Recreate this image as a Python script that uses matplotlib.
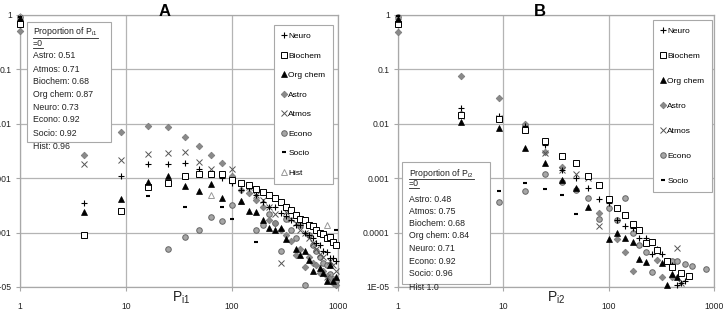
import numpy as np
import matplotlib
matplotlib.use("Agg")
import matplotlib.pyplot as plt
from matplotlib.lines import Line2D
from matplotlib.patches import Rectangle
from matplotlib.ticker import FixedLocator, FixedFormatter, NullLocator

nan = np.nan
W, H = 724, 312

# ---------------- data ----------------
series_names_A = ["Neuro", "Biochem", "Org chem", "Astro", "Atmos", "Econo", "Socio", "Hist"]
series_names_B = ["Neuro", "Biochem", "Org chem", "Astro", "Atmos", "Econo", "Socio"]

# Panel A: x = n^2, n = 1..31
n_A = np.arange(1, 32)
A_neuro = [0.73, 3.5e-4, 1.1e-3, 1.8e-3, 1.8e-3, 1.9e-3, 1.5e-3, 1.2e-3, 1e-3, 8e-4, 6e-4, 6.5e-4, 5e-4,
           3.6e-4, 3e-4, 3e-4, 2.3e-4, 2e-4, 1.7e-4, 1.4e-4, 1.4e-4, 1e-4, 9e-5, 8e-5, 6.5e-5, 6e-5,
           4.5e-5, 4.4e-5, 3.4e-5, 3.4e-5, 3e-5]
A_biochem = [0.68, 9.1e-5, 2.5e-4, 7e-4, 8.3e-4, 1.1e-3, 1.2e-3, 1.2e-3, 1.2e-3, 9.3e-4, 8e-4, 7.5e-4,
             6.3e-4, 5.6e-4, 4.9e-4, 4.3e-4, 3.7e-4, 3e-4, 2.6e-4, 2.1e-4, 1.8e-4, 1.7e-4, 1.4e-4,
             1.3e-4, 1.1e-4, 1e-4, 9.4e-5, 8.1e-5, 8.4e-5, 6.8e-5, 5.9e-5]
A_orgchem = [0.87, 2.4e-4, 4.2e-4, 8.5e-4, 1.1e-3, 7.3e-4, 5.9e-4, 7.7e-4, 4.4e-4, nan, 3.8e-4, 2.5e-4,
             2.4e-4, 1.7e-4, 1.2e-4, 1.1e-4, 1.2e-4, 7.7e-5, nan, 5e-5, 3.9e-5, 4.5e-5, 3.2e-5, 2e-5,
             nan, 2.2e-5, 1.8e-5, 1.3e-5, 2.5e-5, 1.3e-5, 1.5e-5]
A_astro = [0.51, 2.7e-3, 7.1e-3, 9.1e-3, 8.8e-3, 5.7e-3, 3.9e-3, 2.7e-3, 1.9e-3, 1.1e-3, 6e-4, 5.3e-4,
           4e-4, 3e-4, 1.7e-4, 1.5e-4, 1.1e-4, 9e-5, 7e-5, 3.9e-5, 5e-5, 2.3e-5, 3.5e-5, 2.8e-5, 2.5e-5,
           1.8e-5, 2e-5, 1.6e-5, 1.4e-5, 1.2e-5, 1.1e-5]
A_atmos = [0.71, 1.8e-3, 2.2e-3, 2.8e-3, 2.9e-3, 3e-3, 2e-3, 1.5e-3, nan, 1.5e-3, 8e-4, 7e-4, 5e-4,
           4e-4, 3e-4, 2.2e-4, 2.8e-5, 2.4e-4, 1.8e-4, 1.5e-4, 1.1e-4, 1e-4, 8e-5, 6.5e-5, 5e-5, 4e-5,
           3.5e-5, 1.5e-5, 3e-5, 2.5e-5, 2e-5]
A_econo = [0.92, nan, nan, nan, 5e-5, 8.3e-5, 1.1e-4, 1.9e-4, 1.6e-4, 3.2e-4, 8e-4, 7.2e-4, 1.1e-4,
           1.4e-4, 2.2e-4, 1.5e-4, 4.5e-5, 1.8e-4, 1.1e-4, 8e-5, 1.4e-4, 1.1e-5, 9e-5, 6e-5, 4.5e-5,
           3.5e-5, 2.8e-5, 2.5e-5, 1.7e-5, 1.4e-5, 1.3e-5]
A_socio = [0.92, nan, nan, 4.7e-4, nan, 3e-4, nan, nan, 3e-4, 1.8e-4, nan, nan, 6.8e-5, nan, nan, nan,
           nan, nan, nan, nan, nan, nan, nan, nan, nan, nan, nan, nan, nan, nan, 1.1e-4]
A_hist = [0.96, nan, nan, nan, nan, nan, nan, 5e-4, nan, nan, 3.8e-4, nan, nan, nan, nan, nan, nan,
          nan, nan, nan, nan, nan, nan, nan, nan, nan, nan, 1.4e-4, nan, nan, nan]

# Panel B: x = n^2, n = 1..29
n_B = np.arange(1, 30)
B_neuro = [0.71, 0.0195, 0.014, 0.009, 0.004, 0.0014, 0.001, 6.6e-4, 4.1e-4, 3.5e-4, 1.7e-4, 1.3e-4,
           1.2e-4, 8e-5, 8e-5, 4e-5, 5e-5, 4e-5, 3e-5, 2.5e-5, 1.1e-5, 1.2e-5, 1.3e-5, nan, nan, nan,
           nan, nan, nan]
B_biochem = [0.68, 0.0146, 0.012, 0.0077, 0.0048, 0.0026, 0.0019, 0.0011, 7.5e-4, 4.1e-4, 2.8e-4,
             2.1e-4, 1.45e-4, 1.1e-4, 6.5e-5, 6.8e-5, 4.8e-5, nan, 3e-5, 2.3e-5, nan, 1.8e-5, nan,
             1.6e-5, nan, nan, nan, nan, nan]
B_orgchem = [0.84, 0.0108, 0.0084, 0.0036, 0.0019, 9.3e-4, 6.6e-4, 2.9e-4, nan, 7.6e-5, 1e-4, 8e-5,
             6.8e-5, 3.3e-5, 2.9e-5, nan, nan, 2.8e-5, 1.1e-5, 1.7e-5, 1.5e-5, nan, nan, nan, nan,
             nan, nan, nan, nan]
B_astro = [0.48, 0.076, 0.03, 0.0099, 0.003, 0.0016, nan, nan, 2.3e-4, nan, 7.5e-5, 4.4e-5, 2e-5,
           nan, nan, nan, 3.2e-5, 1.5e-5, nan, 1.5e-5, nan, nan, nan, nan, nan, nan, nan, nan, nan]
B_atmos = [0.75, 0.014, 0.013, 0.0085, 0.0029, 0.0014, 0.0012, 0.001, 1.3e-4, nan, nan, 2.1e-4, nan,
           nan, nan, nan, nan, nan, nan, nan, 5.2e-5, 1.2e-5, nan, nan, nan, nan, nan, nan, nan]
B_econo = [0.92, 0.015, 3.6e-4, 5.9e-4, 0.0012, 8.5e-4, 6.1e-4, 4.4e-4, 1.8e-4, 2.8e-4, 1.7e-4,
           4.4e-4, 1e-4, 6e-5, 4.4e-5, 1.9e-5, nan, nan, 3e-5, 3e-5, 3e-5, nan, 2.7e-5, nan, 2.4e-5,
           nan, nan, nan, 2.1e-5]
B_socio = [0.96, nan, 5.8e-4, 8.3e-4, 6.3e-4, 5e-4, 2.2e-4, nan, nan, nan, nan, nan, nan, nan, nan,
           nan, nan, nan, nan, nan, nan, nan, nan, nan, nan, nan, nan, nan, nan]

prop_A = ["Astro: 0.51", "Atmos: 0.71", "Biochem: 0.68", "Org chem: 0.87", "Neuro: 0.73",
          "Econo: 0.92", "Socio: 0.92", "Hist: 0.96"]
prop_B = ["Astro: 0.48", "Atmos: 0.75", "Biochem: 0.68", "Org chem: 0.84", "Neuro: 0.71",
          "Econo: 0.92", "Socio: 0.96", "Hist 1.0"]

y_ticks = [1e-5, 1e-4, 1e-3, 1e-2, 1e-1, 1]
y_tick_labels = ["1E-05", "0.0001", "0.001", "0.01", "0.1", "1"]
x_ticks = [1, 10, 100, 1000]
x_tick_labels = ["1", "10", "100", "1000"]

# ---------------- style ----------------
font = ["Liberation Sans", "DejaVu Sans"]
plt.rcParams["font.family"] = font
plt.rcParams["mathtext.fontset"] = "custom"
plt.rcParams["mathtext.rm"] = "Liberation Sans"
plt.rcParams["mathtext.it"] = "Liberation Sans:italic"

styles = {
    "Neuro":    dict(marker="+", color="black", ms=5, mew=0.8, mfc="black", mec="black"),
    "Biochem":  dict(marker="s", color="black", ms=4.2, mew=0.7, mfc="white", mec="black"),
    "Org chem": dict(marker="^", color="black", ms=5, mew=0.5, mfc="black", mec="black"),
    "Astro":    dict(marker="D", color="#8a8a8a", ms=3.4, mew=0.5, mfc="#8a8a8a", mec="#777777"),
    "Atmos":    dict(marker="x", color="#555555", ms=4, mew=0.7, mfc="#555555", mec="#555555"),
    "Econo":    dict(marker="o", color="#999999", ms=4, mew=0.7, mfc="#a6a6a6", mec="#666666"),
    "Socio":    dict(marker="_", color="black", ms=3.5, mew=1.5, mfc="black", mec="black"),
    "Hist":     dict(marker="^", color="#999999", ms=4.5, mew=0.7, mfc="white", mec="#999999"),
}

fig = plt.figure(figsize=(W / 100, H / 100), dpi=100)
fig.patch.set_facecolor("white")


def fx(px):
    return px / W


def fy(py):
    return 1 - py / H


def make_axes(x0, x1, y0=15, y1=287):
    ax = fig.add_axes([fx(x0), fy(y1), fx(x1) - fx(x0), fy(y0) - fy(y1)])
    ax.set_xscale("log")
    ax.set_yscale("log")
    ax.set_xlim(1, 1000)
    ax.set_ylim(1e-5, 1)
    ax.xaxis.set_major_locator(FixedLocator(x_ticks))
    ax.xaxis.set_major_formatter(FixedFormatter(x_tick_labels))
    ax.yaxis.set_major_locator(FixedLocator(y_ticks))
    ax.yaxis.set_major_formatter(FixedFormatter(y_tick_labels))
    ax.xaxis.set_minor_locator(NullLocator())
    ax.yaxis.set_minor_locator(NullLocator())
    ax.grid(True, color="#b4b4b4", lw=0.9)
    ax.set_axisbelow(True)
    for s in ax.spines.values():
        s.set_color("#a8a8a8")
        s.set_linewidth(0.9)
    ax.tick_params(axis="both", colors="#a8a8a8", length=3, width=0.8, labelsize=6.2,
                   labelcolor="#222222")
    ax.tick_params(axis="x", pad=8)
    ax.tick_params(axis="y", pad=3)
    return ax


axA = make_axes(20, 338)
axB = make_axes(398, 714)

dataA = {"Neuro": A_neuro, "Biochem": A_biochem, "Org chem": A_orgchem, "Astro": A_astro,
         "Atmos": A_atmos, "Econo": A_econo, "Socio": A_socio, "Hist": A_hist}
dataB = {"Neuro": B_neuro, "Biochem": B_biochem, "Org chem": B_orgchem, "Astro": B_astro,
         "Atmos": B_atmos, "Econo": B_econo, "Socio": B_socio}

draw_order = ["Econo", "Astro", "Atmos", "Hist", "Neuro", "Socio", "Biochem", "Org chem"]


def plot_panel(ax, n, data, names):
    x = n.astype(float) ** 2
    handles = {}
    for name in draw_order:
        if name not in data:
            continue
        st = styles[name]
        h, = ax.plot(x, data[name], linestyle="none", marker=st["marker"], ms=st["ms"],
                     mew=st["mew"], mfc=st["mfc"], mec=st["mec"], color=st["color"],
                     label=name, clip_on=False, zorder=3)
        handles[name] = h
    return [handles[nm] for nm in names]


hA = plot_panel(axA, n_A, dataA, series_names_A)
hB = plot_panel(axB, n_B, dataB, series_names_B)


def add_legend(ax, handles, names, x1, y0, spacing):
    leg = ax.legend(handles, names, loc="upper right",
                    bbox_to_anchor=(fx(x1), fy(y0)), bbox_transform=fig.transFigure,
                    frameon=True, fancybox=False, framealpha=1, edgecolor="#a8a8a8",
                    prop={"family": font, "size": 6.0}, labelspacing=spacing,
                    handlelength=0.6, handletextpad=0.2, borderpad=0.9, borderaxespad=0,
                    numpoints=1, markerscale=1.0)
    leg.get_frame().set_linewidth(0.8)
    leg.set_zorder(5)
    return leg


add_legend(axA, hA, series_names_A, 333, 25, 1.4)
add_legend(axB, hB, series_names_B, 712, 20, 2.05)


def add_textbox(sub, lines, x0, y0, x1, y1, tx, ty_list):
    rect = Rectangle((fx(x0), fy(y1)), fx(x1) - fx(x0), fy(y0) - fy(y1), transform=fig.transFigure,
                     facecolor="white", edgecolor="#a8a8a8", lw=0.8, zorder=6)
    fig.add_artist(rect)
    texts = []
    heads = ["Proportion of P$\\mathregular{_{%s}}$" % sub, "=0"]
    for i, s in enumerate(heads + lines):
        t = fig.text(fx(tx), fy(ty_list[i]), s, fontsize=6.3, va="center",
                     ha="left", color="#222222", zorder=7)
        texts.append(t)
    return texts[:2]


ys_A = [32, 43.5, 56, 69, 82, 94.5, 107.5, 120, 133, 146.5]
ys_B = [173, 184, 199, 211, 223.5, 236, 248.5, 261.5, 274, 287]
headA = add_textbox("i1", prop_A, 27, 22, 111, 142, 33, ys_A)
headB = add_textbox("i2", prop_B, 402, 162, 490, 284, 409, ys_B)

# titles and axis labels
fig.text(fx(165), fy(12), "A", fontsize=12, fontweight="bold", ha="center", va="center")
fig.text(fx(540), fy(12), "B", fontsize=12, fontweight="bold", ha="center", va="center")
fig.text(fx(181), fy(298), "P$\\mathregular{_{i1}}$", fontsize=10, ha="center", va="center",
         color="#222222")
fig.text(fx(556), fy(298), "P$\\mathregular{_{i2}}$", fontsize=10, ha="center", va="center",
         color="#222222")

# underline headings
fig.canvas.draw()
r = fig.canvas.get_renderer()
for t in headA + headB:
    bb = t.get_window_extent(renderer=r)
    y = bb.y0 + 0.5
    fig.add_artist(Line2D([bb.x0 / W, bb.x1 / W], [y / H, y / H], transform=fig.transFigure,
                          color="#222222", lw=0.6, zorder=8))

fig.savefig("out.png", dpi=100, facecolor="white")
